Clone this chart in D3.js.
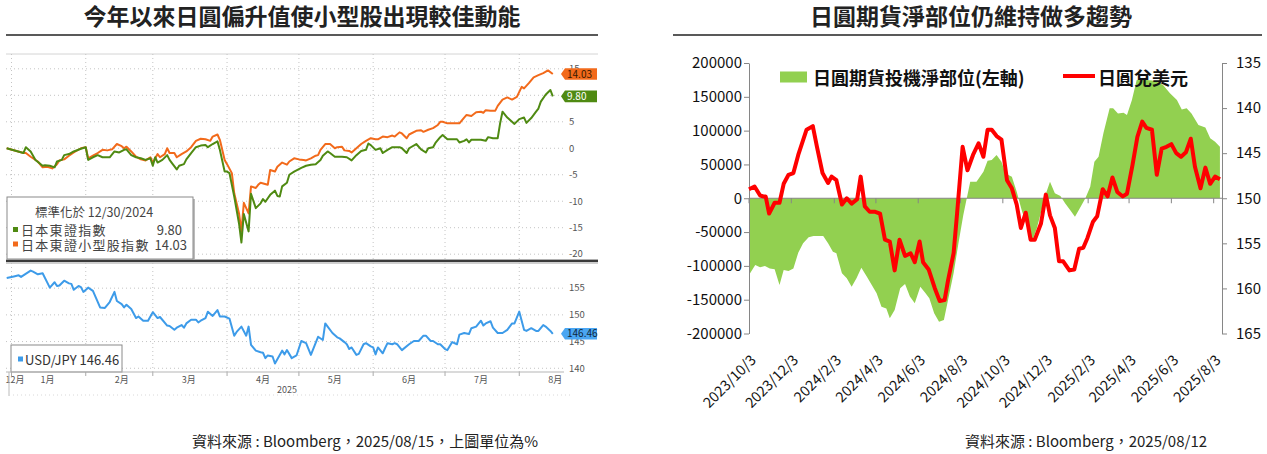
<!DOCTYPE html>
<html>
<head>
<meta charset="utf-8">
<script src="https://cdn.jsdelivr.net/npm/d3@7"></script>
<style>
  body { margin: 0; background: #fff; }
  text { font-family: "Noto Sans CJK TC", "Noto Sans", sans-serif; }
</style>
</head>
<body>
<svg id="chart" width="1267" height="454"></svg>
<script>
// ---------- left chart: days since 2024/12/30 ----------
var topixDays = [0,7,8,10,12,15,16,18,20,21,23,24,26,28,31,33,34,36,38,40,42,43,45,47,49,50,52,54,56,58,60,61,62,63,65,67,68,69,71,72,74,75,77,79,81,83,84,86,88,89,91,92,93,95,97,98,99,101,102,104,106,107,108,110,112,113,114,115,117,118,120,123,125,127,129,131,132,134,135,137,140,142,144,146,148,150,151,152,154,156,157,159,161,164,165,167,168,171,173,175,176,178,179,181,182,184,186,188,189,191,192,193,194,196,198,200,201,203,205,206,207,209,212,214,216,217,219,221,222,223,225,227,228];
var topixVals = [0,-0.9,0.2,-0.6,-2.2,-3.3,-3.2,-3.3,-3.6,-2.5,-2.2,-1.3,-1.1,-0.6,-0.1,0.2,-2.2,-1.7,-1.3,-1.7,-1.7,-1.7,-0.6,-0.8,-0.3,-0.2,-1.3,-1.7,-1.9,-2.2,-1.9,-3.3,-1.7,-2.7,-2.2,-1.3,-2.2,-2.8,-4.0,-3.3,-3.0,-2.1,-0.9,0.2,0.5,0.6,0.2,0.8,1.3,-0.3,-4.4,-4.4,-4.7,-9.1,-14.2,-17.8,-12.4,-15.7,-8.6,-11.3,-10.4,-9.6,-10.1,-8.8,-8.0,-9.0,-9.1,-7.2,-6.5,-5.0,-4.4,-3.7,-3.3,-3.1,-3.0,-2.2,-1.4,-0.6,-0.9,-1.6,-1.6,-1.7,-2.3,-1.3,-0.5,-0.3,0.9,0.6,-0.3,0,-0.9,-0.3,0.2,0.2,0,-0.9,0,0.8,-0.2,-0.8,0,0.2,1.0,2.1,2.5,1.7,1.7,1.7,1.1,1.4,1.7,1.1,1.6,1.6,1.6,1.4,2.1,1.9,1.9,4.7,6.9,5.8,4.6,5.5,5.8,4.8,5.7,6.9,7.5,8.8,10.1,11.0,9.80];

var smallDays = [0,7,8,10,13,15,17,19,21,22,24,26,28,31,33,34,36,38,40,42,44,46,48,49,50,52,54,56,58,60,61,63,64,66,67,68,70,71,73,75,77,79,81,83,85,86,88,89,91,92,94,95,97,98,99,101,102,104,105,106,109,110,112,113,115,117,118,120,122,124,125,127,129,130,131,133,135,137,138,140,141,143,144,146,148,150,152,154,155,157,159,161,162,164,165,167,168,171,173,174,176,178,180,181,182,184,186,189,191,192,194,196,198,199,200,202,204,205,207,209,211,213,215,216,218,220,222,224,226,228];
var smallVals = [0,-0.9,-0.9,-1.6,-2.5,-3.6,-3.5,-3.8,-3.0,-2.3,-2.1,-1.4,-0.8,0,0.2,-1.9,-1.4,-0.9,-0.3,-0.4,-0.2,0.8,0.4,0,0.3,-0.6,-1.6,-2.1,-2.3,-1.7,-2.7,-1.1,-1.7,-1.1,0,-0.9,-0.9,-1.7,-1.1,-0.6,0.2,1.4,1.8,1.7,1.4,2.2,2.6,1.6,-2.2,-3.0,-4.7,-8.5,-12.3,-15.7,-10.3,-12.3,-7.2,-7.5,-6.9,-6.5,-6.9,-4.1,-4.4,-3.5,-2.7,-3.1,-2.5,-1.9,-2.1,-2.2,-2.3,-1.9,-1.4,-1.3,-0.3,0.8,0.8,0,0.2,0.3,-0.4,-0.5,-0.8,0,0.8,1.4,1.9,1.7,1.7,2.2,2.1,2.4,2.2,3.0,2.8,1.9,2.6,3.3,3.4,3.1,3.5,3.8,4.4,5.0,5.0,4.7,4.7,4.7,5.8,6.3,6.1,6.8,6.9,6.7,7.2,7.1,7.1,8.0,9.2,9.6,9.2,9.7,11.6,11.3,12.3,13.4,13.8,14.2,14.7,14.03];

var usdDays = [0,3,5,6,10,11,13,15,18,20,21,22,24,26,27,28,30,31,32,34,36,39,41,43,45,46,48,49,50,52,54,55,57,59,61,63,64,67,68,70,71,73,74,75,77,79,80,81,83,84,86,88,89,91,93,95,96,98,100,101,102,104,106,107,108,109,111,112,113,115,116,117,119,121,123,125,127,130,132,133,134,136,138,139,141,142,143,144,146,147,149,150,152,153,154,155,157,158,159,161,162,163,165,168,170,172,174,175,177,178,180,181,183,184,186,188,189,191,193,194,196,198,199,200,202,203,205,207,209,211,212,214,216,217,219,221,222,224,225,227,228];
var usdVals = [156.9,157.2,157.4,157.1,158.3,158.1,157.6,157.8,155.1,156.1,155.4,155.5,156.4,155.9,155.8,154.7,155.4,155.2,154.3,155.1,154.5,151.4,151.3,152.4,154.3,152.6,152.0,151.4,151.9,151.1,149.4,149.7,148.9,148.9,150.5,149.4,149.6,148.0,147.9,147.2,147.6,148.1,147.6,148.4,149.1,149.1,148.6,148.9,149.4,150.6,149.8,150.9,149.7,149.7,149.3,146.1,146.8,147.8,146.1,147.8,144.4,143.3,143.0,142.9,141.9,142.4,142.2,140.9,141.7,143.3,142.6,143.4,141.9,142.4,145.1,144.7,142.5,145.9,145.3,148.4,147.8,146.6,145.8,145.6,144.9,144.5,143.6,143.9,142.5,142.7,144.5,144.7,144.1,143.9,142.6,143.9,142.8,143.8,144.7,144.5,144.7,144.5,143.4,144.5,145.1,145.1,146.1,146.1,145.1,145.1,144.5,144.5,143.6,143.4,144.9,144.5,146.3,146.6,146.4,147.5,147.8,148.9,148.0,148.4,148.8,147.6,146.6,146.6,147.2,148.4,148.4,150.6,147.2,147.0,147.5,147.0,147.0,148.1,147.8,147.0,146.46];

var topTicks = [15, 10, 5, 0, -5, -10, -15, -20];
var botTicks = [155, 150, 145, 140];
var monthLabels = ["12月","1月","2月","3月","4月","5月","6月","7月","8月"];

// ---------- right chart: days since 2023/10/3 ----------
var netDays = [0,9,16,23,30,37,44,50,57,64,71,78,86,93,100,107,114,121,126,134,141,148,155,162,170,177,184,191,198,203,210,218,225,232,239,247,254,260,267,274,281,287,295,302,309,314,319,328,338,344,350,357,364,369,374,379,386,393,403,409,415,422,429,434,441,449,456,463,470,477,485,492,498,504,511,520,525,532,540,545,552,559,566,573,581,588,597,607,617,624,631,638,648,658,665,672,679];
var netVals = [-113500,-98700,-102000,-100000,-103700,-105100,-128300,-106100,-107600,-103700,-80600,-66700,-57800,-55800,-55800,-55800,-66700,-79000,-81500,-111000,-118400,-130800,-118400,-102600,-115900,-128300,-140600,-160400,-162900,-177500,-165200,-133100,-126700,-145400,-155300,-130700,-139600,-148000,-170200,-182500,-180000,-150500,-111000,-66700,-24800,0,24500,24500,39300,55600,56600,64000,54000,39300,34400,31900,9700,-17100,-49200,-61700,-44500,-17100,9700,24500,7300,3300,-7600,-17400,-27200,-14900,0,17100,54100,61500,96000,133000,133000,125500,126500,123000,145000,174900,175900,174900,174000,172400,167500,155200,145300,131400,133000,125500,108300,104800,88600,83700,76300];

var jpyDays = [0,8,16,21,24,29,37,44,50,57,64,71,83,92,98,106,114,119,126,134,141,148,156,161,167,174,182,189,196,203,210,217,225,233,239,246,251,259,268,275,282,287,295,300,308,315,323,331,338,344,350,357,364,372,379,386,392,399,406,412,421,428,434,441,447,453,462,469,476,482,488,496,502,510,517,524,531,539,545,553,560,567,573,581,588,595,602,609,616,623,630,637,643,651,658,665,672,679];
var jpyVals = [149.0,148.7,149.7,149.8,149.8,151.7,150.5,150.5,148.4,147.4,147.2,145.2,142.4,142.0,144.3,147.2,148.3,147.6,148.0,150.7,150.0,150.6,150.1,147.6,150.9,151.5,151.5,151.7,154.6,154.8,158.0,154.6,156.4,156.1,157.1,154.8,157.1,157.9,160.0,161.4,161.3,159.1,156.1,151.7,144.3,146.9,145.2,143.9,145.4,142.4,142.4,143.1,143.5,148.0,148.9,150.7,153.3,151.6,154.6,154.6,152.8,149.6,151.9,153.3,157.0,157.0,158.0,157.9,155.6,155.5,154.4,152.6,152.0,149.0,149.8,147.7,149.3,149.8,149.5,146.3,143.2,141.5,142.2,142.4,147.4,144.5,144.3,144.0,145.0,145.4,144.9,143.4,146.5,148.9,146.6,148.4,147.6,147.9];

var netTicks = [200000,150000,100000,50000,0,-50000,-100000,-150000,-200000];
var jpyTicks = [135,140,145,150,155,160,165];
var dateLabels = ["2023/10/3","2023/12/3","2024/2/3","2024/4/3","2024/6/3","2024/8/3","2024/10/3","2024/12/3","2025/2/3","2025/4/3","2025/6/3","2025/8/3"];

var svg = d3.select("#chart");

// ================= LEFT CHART =================
var baseL = new Date(2024, 11, 30);
var dayL = function(d) { return d3.timeDay.offset(baseL, d); };
var xL = d3.scaleTime().domain([dayL(0), dayL(228)]).range([6.7, 552.8]);
var yTop = d3.scaleLinear().domain([-21.1, 17.8]).range([260, 54]);
var yBot = d3.scaleLinear().domain([139.3, 159.9]).range([372, 262]);

var topix = topixDays.map(function(d, i) { return {date: dayL(d), v: topixVals[i]}; });
var small = smallDays.map(function(d, i) { return {date: dayL(d), v: smallVals[i]}; });
var usd = usdDays.map(function(d, i) { return {date: dayL(d), v: usdVals[i]}; });

svg.append("text").attr("x", 302).attr("y", 25).attr("text-anchor", "middle")
  .attr("font-size", 23).attr("font-weight", "bold").attr("fill", "#222")
  .text("今年以來日圓偏升值使小型股出現較佳動能");
svg.append("line").attr("x1", 6).attr("x2", 598).attr("y1", 35).attr("y2", 35)
  .attr("stroke", "#222").attr("stroke-width", 1.5);

var gl = svg.append("g");
gl.append("line").attr("x1", 6).attr("x2", 598).attr("y1", 54).attr("y2", 54)
  .attr("stroke", "#d4d4d4");

// month grid
var months = d3.timeMonth.range(new Date(2025, 0, 1), new Date(2025, 7, 2));
months.forEach(function(m) {
  [[54, 259], [263, 372]].forEach(function(r) {
    gl.append("line").attr("x1", xL(m)).attr("x2", xL(m)).attr("y1", r[0]).attr("y2", r[1])
      .attr("stroke", "#c4c4c4").attr("stroke-dasharray", "1,3");
  });
  gl.append("line").attr("x1", xL(m)).attr("x2", xL(m)).attr("y1", 372).attr("y2", 376)
    .attr("stroke", "#aaa");
});

gl.selectAll(".hgt").data(topTicks).enter().append("line")
  .attr("x1", 6).attr("x2", 564).attr("y1", function(d) { return yTop(d); }).attr("y2", function(d) { return yTop(d); })
  .attr("stroke", "#c4c4c4").attr("stroke-dasharray", "1,3");
gl.selectAll(".hgb").data(botTicks).enter().append("line")
  .attr("x1", 6).attr("x2", 564).attr("y1", function(d) { return yBot(d); }).attr("y2", function(d) { return yBot(d); })
  .attr("stroke", "#c4c4c4").attr("stroke-dasharray", "1,3");

gl.selectAll(".tlt").data(topTicks).enter().append("text")
  .attr("x", 569).attr("y", function(d) { return yTop(d); }).attr("dy", "0.35em")
  .attr("font-family", "Liberation Sans").attr("font-size", 9.5).attr("fill", "#555")
  .text(function(d) { return d; });
gl.selectAll(".tlb").data(botTicks).enter().append("text")
  .attr("x", 569).attr("y", function(d) { return yBot(d); }).attr("dy", "0.35em")
  .attr("font-family", "Liberation Sans").attr("font-size", 9.5).attr("fill", "#555")
  .text(function(d) { return d; });

// lines
var lineTop = d3.line().x(function(d) { return xL(d.date); }).y(function(d) { return yTop(d.v); });
var lineBot = d3.line().x(function(d) { return xL(d.date); }).y(function(d) { return yBot(d.v); });

gl.append("path").datum(small).attr("d", lineTop).attr("fill", "none")
  .attr("stroke", "#f26a1b").attr("stroke-width", 2).attr("stroke-linejoin", "round");
gl.append("path").datum(topix).attr("d", lineTop).attr("fill", "none")
  .attr("stroke", "#4f8a12").attr("stroke-width", 2).attr("stroke-linejoin", "round");
gl.append("path").datum(usd).attr("d", lineBot).attr("fill", "none")
  .attr("stroke", "#3d9be9").attr("stroke-width", 2).attr("stroke-linejoin", "round");

// separator between panels
gl.append("rect").attr("x", 6).attr("y", 259.6).attr("width", 592).attr("height", 2.6).attr("fill", "#3a3a3a");
gl.append("line").attr("x1", 6).attr("x2", 598).attr("y1", 263.2).attr("y2", 263.2).attr("stroke", "#bbb");

// value tags (cover the tick label beneath, as in the source)
function tag(y, txt, fill, tfill) {
  gl.append("path")
    .attr("d", "M561," + y + "L565," + (y - 5.8) + "L597," + (y - 5.8) + "L597," + (y + 5.8) + "L565," + (y + 5.8) + "Z")
    .attr("fill", fill);
  gl.append("text").attr("x", 567).attr("y", y).attr("dy", "0.36em")
    .attr("font-family", "Liberation Sans").attr("font-size", 10).attr("fill", tfill).text(txt);
}
var lastT = topixVals[topixVals.length - 1], lastS = smallVals[smallVals.length - 1], lastU = usdVals[usdVals.length - 1];
tag(yTop(lastS), lastS.toFixed(2), "#f26a1b", "#3a1a00");
tag(yTop(lastT), lastT.toFixed(2), "#4f8a12", "#fff");
tag(yBot(lastU), lastU.toFixed(2), "#4aa6f2", "#10263a");

// legend box (top)
gl.append("rect").attr("x", 9).attr("y", 199).attr("width", 186).attr("height", 60).attr("fill", "#bbb");
gl.append("rect").attr("x", 7).attr("y", 197).attr("width", 186).attr("height", 62)
  .attr("fill", "#fff").attr("stroke", "#8a8a8a");
gl.append("text").attr("x", 35).attr("y", 217).attr("font-size", 12.5).attr("fill", "#444")
  .text("標準化於 12/30/2024");
[["日本東證指數", lastT, "#4f8a12", 182], ["日本東證小型股指數", lastS, "#f26a1b", 187]].forEach(function(e, i) {
  var y = 230 + i * 14.5;
  gl.append("rect").attr("x", 13).attr("y", y - 3).attr("width", 5).attr("height", 5).attr("fill", e[2]);
  gl.append("text").attr("x", 21).attr("y", y + 5).attr("font-size", 13).attr("letter-spacing", 1.3)
    .attr("fill", "#444").text(e[0]);
  gl.append("text").attr("x", e[3]).attr("y", y + 5).attr("text-anchor", "end")
    .attr("font-family", "Liberation Sans").attr("font-size", 13).attr("fill", "#444").text(e[1].toFixed(2));
});

// legend box (bottom)
gl.append("rect").attr("x", 11).attr("y", 345).attr("width", 111).attr("height", 27)
  .attr("fill", "#fff").attr("stroke", "#8a8a8a");
gl.append("rect").attr("x", 18).attr("y", 356.5).attr("width", 5).attr("height", 5).attr("fill", "#3d9be9");
gl.append("text").attr("x", 25).attr("y", 364.5).attr("font-family", "Liberation Sans")
  .attr("font-size", 13).attr("fill", "#333").text("USD/JPY " + lastU.toFixed(2));

// x axis
gl.append("line").attr("x1", 6).attr("x2", 564).attr("y1", 372).attr("y2", 372).attr("stroke", "#b5b5b5");
var labelDates = [null].concat(d3.range(0, 8).map(function(i) { return new Date(2025, i, 16); }));
gl.selectAll(".ml").data(monthLabels).enter().append("text")
  .attr("x", function(d, i) { return i === 0 ? 15 : xL(labelDates[i]); })
  .attr("y", 380).attr("dy", "0.35em").attr("text-anchor", "middle")
  .attr("font-size", 9).attr("fill", "#555").text(function(d) { return d; });
gl.append("line").attr("x1", 9).attr("x2", 9).attr("y1", 372).attr("y2", 396).attr("stroke", "#bbb");
gl.append("line").attr("x1", 9).attr("x2", 572).attr("y1", 395).attr("y2", 395)
  .attr("stroke", "#d8d8d8").attr("stroke-dasharray", "1,3");
gl.append("text").attr("x", 287).attr("y", 390).attr("dy", "0.35em").attr("text-anchor", "middle")
  .attr("font-family", "Liberation Sans").attr("font-size", 9).attr("fill", "#555").text("2025");

svg.append("text").attr("x", 365).attr("y", 447).attr("text-anchor", "middle")
  .attr("font-size", 15).attr("fill", "#222").text("資料來源 : Bloomberg，2025/08/15，上圖單位為%");

// ================= RIGHT CHART =================
var baseR = new Date(2023, 9, 3);
var dayR = function(d) { return d3.timeDay.offset(baseR, d); };
var xR = d3.scaleTime().domain([baseR, new Date(2025, 7, 15)]).range([749, 1222]);
var yNet = d3.scaleLinear().domain([-200000, 200000]).range([333.5, 63]);
var yJpy = d3.scaleLinear().domain([135, 165]).range([63, 333.5]);

var net = netDays.map(function(d, i) { return {date: dayR(d), v: netVals[i]}; });
var jpy = jpyDays.map(function(d, i) { return {date: dayR(d), v: jpyVals[i]}; });

svg.append("text").attr("x", 971).attr("y", 25).attr("text-anchor", "middle")
  .attr("font-size", 23).attr("font-weight", "bold").attr("fill", "#222")
  .text("日圓期貨淨部位仍維持做多趨勢");
svg.append("line").attr("x1", 673).attr("x2", 1262).attr("y1", 35).attr("y2", 35)
  .attr("stroke", "#222").attr("stroke-width", 1.5);

var gr = svg.append("g");
gr.append("path").datum(net)
  .attr("d", d3.area().x(function(d) { return xR(d.date); }).y0(yNet(0)).y1(function(d) { return yNet(d.v); }))
  .attr("fill", "#92d050");

var axL = gr.append("g").attr("transform", "translate(749,0)")
  .call(d3.axisLeft(yNet).tickValues(netTicks).tickSize(5).tickSizeOuter(0).tickPadding(2)
    .tickFormat(function(d) { return String(d); }));
var axR = gr.append("g").attr("transform", "translate(1222,0)")
  .call(d3.axisRight(yJpy).tickValues(jpyTicks).tickSize(5).tickSizeOuter(0).tickPadding(9));
[axL, axR].forEach(function(a) {
  a.attr("font-family", "DejaVu Sans").attr("font-size", 15);
  a.select(".domain").attr("stroke", "#868686");
  a.selectAll(".tick line").attr("stroke", "#868686");
  a.selectAll(".tick text").attr("fill", "#111");
});

// category axis at zero
var parseD = d3.timeParse("%Y/%m/%d");
var tickDates = dateLabels.map(parseD);
gr.append("line").attr("x1", 749).attr("x2", 1222).attr("y1", yNet(0)).attr("y2", yNet(0)).attr("stroke", "#868686");
gr.selectAll(".xt").data(tickDates).enter().append("line")
  .attr("x1", function(d) { return xR(d); }).attr("x2", function(d) { return xR(d); })
  .attr("y1", yNet(0)).attr("y2", yNet(0) + 5).attr("stroke", "#868686");
gr.selectAll(".xl").data(dateLabels).enter().append("text")
  .attr("text-anchor", "end").attr("font-family", "DejaVu Sans").attr("font-size", 14.5).attr("fill", "#111")
  .attr("transform", function(d, i) { return "translate(" + (xR(tickDates[i]) + 8) + ",361) rotate(-45)"; })
  .text(function(d) { return d; });

gr.append("path").datum(jpy)
  .attr("d", d3.line().x(function(d) { return xR(d.date); }).y(function(d) { return yJpy(d.v); }))
  .attr("fill", "none").attr("stroke", "#ff0000").attr("stroke-width", 4).attr("stroke-linejoin", "round");

// legend
gr.append("rect").attr("x", 780).attr("y", 71.5).attr("width", 27).attr("height", 11).attr("fill", "#92d050");
gr.append("text").attr("x", 813).attr("y", 84.5).attr("font-size", 18).attr("font-weight", "bold").attr("fill", "#111")
  .text("日圓期貨投機淨部位(左軸)");
gr.append("line").attr("x1", 1063).attr("x2", 1095).attr("y1", 76).attr("y2", 76)
  .attr("stroke", "#ff0000").attr("stroke-width", 4);
gr.append("text").attr("x", 1098).attr("y", 84.5).attr("font-size", 18).attr("font-weight", "bold").attr("fill", "#111")
  .text("日圓兌美元");

svg.append("text").attr("x", 1086).attr("y", 447).attr("text-anchor", "middle")
  .attr("font-size", 15).attr("fill", "#222").text("資料來源 : Bloomberg，2025/08/12");
</script>
</body>
</html>
